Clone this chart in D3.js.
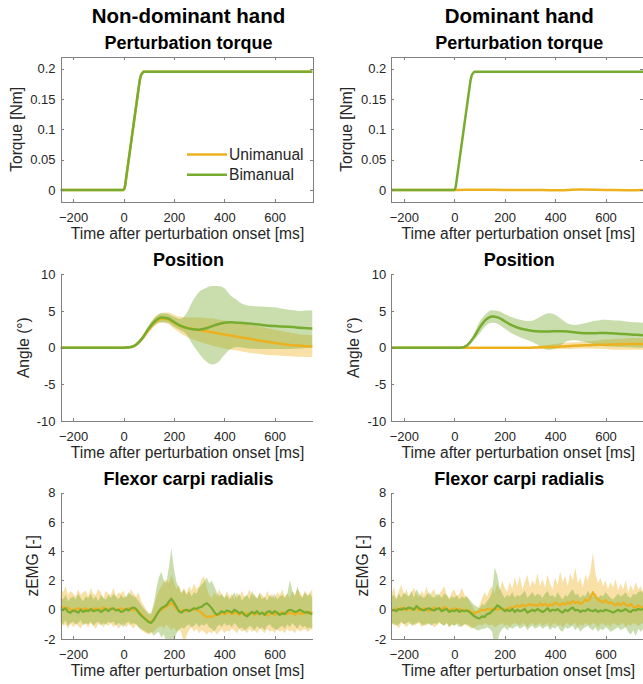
<!DOCTYPE html>
<html>
<head>
<meta charset="utf-8">
<script src="https://cdn.jsdelivr.net/npm/d3@7"></script>
<style>
  body { margin: 0; background: #fff; }
  svg { display: block; font-family: "Liberation Sans", Arial, sans-serif; }
  .axis path, .axis line { stroke: #808080; stroke-width: 1; shape-rendering: crispEdges; }
  .axis text { fill: #262626; font-size: 13px; }
  .lbl { fill: #262626; font-size: 15.6px; }
  .ttl { fill: #000; font-weight: bold; }
</style>
</head>
<body>
<svg width="643" height="684"></svg>
<script>
const colUni = "#EDB120", colBi = "#77AC30";

// time grids (ms)
const tTorque = [-250, -10, 0, 5, 10, 20, 30, 40, 50, 60, 65, 70, 75, 80, 90, 100, 750];
const tFlat = [-250, 0, 100, 200, 300, 400, 500, 600, 700, 750];
const tPos = d3.range(-250, 751, 25);
const tEmg = d3.range(-250, 751, 10);

const xTicks = [-200, 0, 200, 400, 600];
const torqueTicks = [0, 0.05, 0.1, 0.15, 0.2];
const posTicks = [-10, -5, 0, 5, 10];
const emgTicks = [-2, 0, 2, 4, 6, 8];

// torque [Nm]
const torqueBi = [0, 0, 0, 0.004, 0.018, 0.048, 0.078, 0.108, 0.138, 0.168, 0.182, 0.190, 0.193, 0.195, 0.195, 0.195, 0.195];
const torqueUniDom = [0, 0, 0.0004, 0, 0, -0.0006, 0.0005, 0, -0.0004, 0];

// position [deg], non-dominant
const posNdUni = [0,0,0,0,0,0,0,0,0,0,
  0, 0.05, 0.4, 1.3, 2.5, 3.5, 3.95, 3.9, 3.4, 2.95,
  2.7, 2.55, 2.4, 2.25, 2.1, 1.95, 1.8, 1.65, 1.5, 1.35,
  1.2, 1.05, 0.9, 0.78, 0.65, 0.52, 0.4, 0.32, 0.25, 0.2,
  0.15];
const posNdUniLo = [-0.05,-0.05,-0.05,-0.05,-0.05,-0.05,-0.05,-0.05,-0.05,-0.05,
  -0.05, -0.05, 0.2, 1.0, 2.0, 3.0, 3.4, 3.3, 2.6, 2.0,
  1.5, 1.1, 0.8, 0.55, 0.3, 0.1, -0.1, -0.25, -0.4, -0.55,
  -0.7, -0.8, -0.9, -1.0, -1.05, -1.1, -1.15, -1.2, -1.25, -1.28,
  -1.3];
const posNdUniHi = [0.05,0.05,0.05,0.05,0.05,0.05,0.05,0.05,0.05,0.05,
  0.05, 0.15, 0.6, 1.6, 3.0, 4.2, 4.7, 4.8, 4.5, 4.2,
  4.1, 4.1, 4.1, 4.05, 4.0, 3.85, 3.7, 3.55, 3.4, 3.25,
  3.1, 2.95, 2.8, 2.6, 2.45, 2.3, 2.1, 1.95, 1.8, 1.75,
  1.7];
const posNdBi = [0,0,0,0,0,0,0,0,0,0,
  0, 0.05, 0.4, 1.3, 2.6, 3.6, 4.1, 4.0, 3.5, 3.0,
  2.7, 2.5, 2.45, 2.6, 2.9, 3.2, 3.4, 3.45, 3.4, 3.35,
  3.3, 3.2, 3.1, 3.0, 2.95, 2.9, 2.85, 2.8, 2.7, 2.65,
  2.6];
const posNdBiLo = [-0.05,-0.05,-0.05,-0.05,-0.05,-0.05,-0.05,-0.05,-0.05,-0.05,
  -0.05, 0.0, 0.2, 1.0, 2.2, 3.1, 3.5, 3.4, 2.9, 2.4,
  1.8, 0.4, -0.8, -1.8, -2.3, -2.0, -1.0, -0.2, 0.1, 0.0,
  -0.1, -0.15, -0.2, -0.2, -0.2, -0.2, -0.2, -0.15, -0.1, -0.05,
  0.0];
const posNdBiHi = [0.05,0.05,0.05,0.05,0.05,0.05,0.05,0.05,0.05,0.05,
  0.05, 0.1, 0.6, 1.6, 3.0, 4.1, 4.7, 4.6, 4.2, 3.9,
  4.7, 6.4, 7.6, 8.1, 8.4, 8.4, 8.1, 7.1, 6.5, 5.9,
  5.7, 5.65, 5.6, 5.55, 5.5, 5.35, 5.2, 5.1, 5.0, 5.05,
  5.1];

// position [deg], dominant
const posDUni = [0,0,0,0,0,0,0,0,0,0,
  0,0,0,0,0,0,0,0,0,0,
  0, 0, 0, 0.02, 0.05, 0.08, 0.1, 0.15, 0.2, 0.25,
  0.3, 0.32, 0.35, 0.38, 0.4, 0.42, 0.45, 0.48, 0.5, 0.5,
  0.5];
const posDUniLo = [-0.05,-0.05,-0.05,-0.05,-0.05,-0.05,-0.05,-0.05,-0.05,-0.05,
  -0.05,-0.05,-0.05,-0.05,-0.05,-0.05,-0.05,-0.05,-0.05,-0.05,
  -0.05, -0.05, -0.1, -0.15, -0.2, -0.2, -0.2, -0.2, -0.2, -0.15,
  -0.1, -0.1, -0.1, -0.15, -0.2, -0.25, -0.3, -0.3, -0.3, -0.3,
  -0.3];
const posDUniHi = [0.05,0.05,0.05,0.05,0.05,0.05,0.05,0.05,0.05,0.05,
  0.05,0.05,0.05,0.05,0.05,0.05,0.05,0.05,0.05,0.05,
  0.05, 0.05, 0.1, 0.2, 0.3, 0.4, 0.5, 0.6, 0.7, 0.75,
  0.8, 0.85, 0.9, 1.0, 1.1, 1.15, 1.2, 1.25, 1.3, 1.3,
  1.3];
const posDBi = [0,0,0,0,0,0,0,0,0,0,
  0, 0, 0.3, 1.3, 2.7, 3.8, 4.25, 4.1, 3.6, 3.1,
  2.75, 2.5, 2.35, 2.25, 2.2, 2.2, 2.25, 2.25, 2.2, 2.1,
  2.0, 1.95, 1.95, 2.0, 2.0, 1.95, 1.9, 1.85, 1.8, 1.75,
  1.7];
const posDBiLo = [-0.05,-0.05,-0.05,-0.05,-0.05,-0.05,-0.05,-0.05,-0.05,-0.05,
  -0.05, -0.05, 0.1, 0.9, 1.9, 3.0, 3.4, 3.2, 2.6, 2.0,
  1.6, 1.2, 0.9, 0.5, 0.0, -0.3, -0.1, 0.4, 0.9, 1.0,
  0.9, 0.7, 0.5, 0.3, 0.2, 0.15, 0.1, 0.1, 0.05, 0.0,
  0.0];
const posDBiHi = [0.05,0.05,0.05,0.05,0.05,0.05,0.05,0.05,0.05,0.05,
  0.05, 0.05, 0.5, 1.7, 3.5, 4.6, 5.1, 5.0, 4.6, 4.2,
  3.9, 3.7, 3.6, 3.9, 4.4, 4.7, 4.5, 3.9, 3.3, 3.1,
  3.2, 3.4, 3.6, 3.75, 3.8, 3.75, 3.7, 3.6, 3.5, 3.45,
  3.4];

// flexor carpi radialis zEMG, non-dominant
const emgNdUni = [0.2, 0.15, 0.1, 0.15, 0.0, -0.05, 0.05, 0.1, 0.0, 0.05,
  0.1, 0.0, -0.05, 0.05, 0.1, 0.0, 0.05, 0.15, 0.05, 0.0,
  0.1, 0.05, -0.05, 0.05, 0.1, 0.0, 0.05, 0.1, 0.0, -0.05,
  0.05, -0.1, -0.3, -0.5, -0.65, -0.8, -0.85, -0.6, -0.35, -0.15,
  0.0, 0.1, 0.2, 0.35, 0.45, 0.3, 0.05, -0.1, -0.05, 0.0,
  -0.1, 0.0, -0.05, 0.05, 0.0, -0.1, -0.2, -0.4, -0.5, -0.45,
  -0.5, -0.4, -0.3, -0.35, -0.2, -0.3, -0.25, -0.15, -0.3, -0.2,
  -0.25, -0.35, -0.2, -0.3, -0.25, -0.3, -0.2, -0.35, -0.25, -0.3,
  -0.2, -0.25, -0.4, -0.3, -0.2, -0.35, -0.25, -0.3, -0.15, -0.25,
  -0.3, -0.2, -0.25, -0.35, -0.2, -0.25, -0.3, -0.2, -0.25, -0.15,
  -0.2];
const emgNdUniHi = [1.5, 1.2, 1.6, 1.0, 1.3, 1.1, 0.9, 1.4, 1.0, 1.2,
  1.3, 0.9, 1.5, 1.1, 1.0, 1.4, 1.2, 0.8, 1.3, 1.1,
  1.0, 1.5, 0.9, 1.2, 1.1, 1.3, 0.8, 1.0, 1.4, 1.1,
  0.9, 1.2, 0.6, 0.3, 0.0, -0.2, -0.3, 0.2, 0.8, 1.3,
  1.6, 1.9, 2.1, 1.8, 2.4, 1.9, 1.4, 1.7, 1.2, 1.5,
  1.1, 1.6, 1.3, 1.8, 1.4, 1.6, 2.1, 2.3, 1.5, 1.0,
  0.8, 1.2, 0.9, 1.4, 1.0, 0.8, 1.3, 0.9, 1.1, 0.7,
  1.2, 0.9, 1.3, 0.8, 1.0, 1.4, 0.9, 1.1, 0.7, 1.2,
  1.0, 0.8, 1.3, 0.9, 1.1, 0.7, 1.2, 1.0, 1.4, 0.9,
  1.1, 0.8, 1.3, 1.0, 1.4, 1.2, 0.9, 1.3, 1.0, 1.2,
  1.4];
const emgNdUniLo = [-0.9, -1.1, -1.0, -1.3, -0.9, -1.2, -1.0, -1.1, -1.3, -0.9,
  -1.0, -1.2, -0.9, -1.1, -1.3, -1.0, -0.9, -1.2, -1.0, -1.1,
  -0.9, -1.2, -1.0, -1.3, -1.1, -0.9, -1.2, -1.0, -1.1, -1.3,
  -1.0, -1.2, -1.4, -1.5, -1.6, -1.7, -1.6, -1.5, -1.3, -1.2,
  -1.1, -1.3, -1.0, -1.2, -1.4, -1.2, -1.5, -1.3, -1.6, -2.3,
  -1.8, -1.4, -1.2, -1.5, -1.3, -1.6, -1.4, -1.5, -1.7, -1.5,
  -1.6, -1.4, -1.7, -1.5, -1.3, -1.6, -1.4, -1.5, -1.3, -1.4,
  -1.6, -1.3, -1.5, -1.4, -1.6, -1.3, -1.5, -1.4, -1.6, -1.3,
  -1.4, -1.6, -1.3, -1.5, -1.4, -1.6, -1.3, -1.5, -1.4, -1.6,
  -1.3, -1.5, -1.4, -1.6, -1.3, -1.5, -1.4, -1.3, -1.5, -1.4,
  -1.3];
const emgNdBi = [0.05, 0.0, 0.1, -0.15, -0.2, -0.05, -0.1, -0.2, 0.0, -0.15,
  -0.05, -0.1, 0.05, -0.1, -0.05, 0.0, -0.15, -0.05, 0.05, -0.1,
  0.05, 0.1, -0.05, 0.0, -0.15, -0.1, 0.05, -0.05, 0.1, 0.15,
  0.05, -0.2, -0.4, -0.55, -0.7, -0.85, -0.9, -0.7, -0.4, -0.1,
  0.1, 0.2, 0.3, 0.55, 0.75, 0.5, 0.2, -0.1, -0.2, -0.05,
  0.0, -0.1, 0.0, 0.1, 0.05, 0.15, 0.2, 0.35, 0.45, 0.3,
  0.1, -0.15, -0.35, -0.25, -0.1, -0.2, -0.05, -0.1, -0.2, 0.0,
  -0.1, -0.25, -0.15, -0.35, -0.45, -0.3, -0.15, -0.25, -0.1, -0.3,
  -0.2, -0.35, -0.15, -0.1, -0.25, -0.1, -0.2, -0.35, -0.25, -0.3,
  -0.1, 0.0, -0.05, -0.15, -0.1, 0.0, -0.1, -0.2, -0.15, -0.25,
  -0.3];
const emgNdBiHi = [0.9, 0.7, 1.0, 0.6, 0.8, 0.9, 0.7, 1.1, 0.8, 0.6,
  0.9, 0.8, 1.1, 0.7, 0.9, 0.6, 1.0, 0.8, 0.7, 1.0,
  0.8, 1.1, 0.9, 0.7, 1.0, 0.8, 0.9, 1.2, 1.0, 0.9,
  0.8, 0.6, 0.3, 0.1, -0.1, -0.3, -0.2, 0.4, 1.4, 2.2,
  2.6, 2.0, 1.8, 2.9, 4.2, 2.8, 1.9, 1.5, 1.1, 1.4,
  1.0, 1.3, 0.9, 1.2, 1.1, 1.5, 1.7, 1.9, 2.2, 1.8,
  2.0, 1.6, 1.2, 0.9, 1.1, 0.8, 1.0, 0.7, 0.9, 1.2,
  0.8, 1.1, 0.6, 0.9, 1.0, 0.7, 1.3, 0.9, 0.8, 1.1,
  0.7, 0.9, 0.6, 1.0, 0.8, 1.1, 0.7, 0.9, 1.0, 0.8,
  1.1, 2.0, 1.3, 0.9, 1.6, 1.0, 0.8, 1.2, 0.9, 1.1,
  0.8];
const emgNdBiLo = [-0.8, -1.0, -0.7, -1.1, -0.9, -0.8, -1.0, -0.9, -0.7, -1.1,
  -0.9, -1.0, -0.8, -1.1, -0.9, -0.8, -1.1, -0.9, -1.0, -0.8,
  -0.9, -0.8, -1.1, -0.9, -1.0, -1.2, -0.9, -0.8, -1.0, -0.9,
  -1.0, -1.2, -1.3, -1.4, -1.5, -1.6, -1.5, -1.8, -1.6, -1.5,
  -1.9, -1.7, -2.2, -2.6, -3.0, -2.2, -1.6, -1.4, -1.2, -1.3,
  -1.1, -1.0, -1.2, -1.1, -0.9, -1.2, -1.0, -1.1, -0.9, -1.2,
  -1.3, -1.5, -1.2, -1.0, -1.2, -0.9, -1.1, -1.0, -1.2, -0.9,
  -1.1, -1.3, -1.2, -1.4, -1.3, -1.1, -1.2, -1.4, -1.1, -1.3,
  -1.2, -1.4, -1.1, -1.0, -1.2, -1.3, -1.4, -1.2, -1.1, -1.3,
  -1.0, -1.2, -0.9, -1.1, -1.3, -1.0, -1.2, -1.1, -1.3, -1.2,
  -1.3];

// flexor carpi radialis zEMG, dominant
const emgDUni = [0.05, -0.05, 0.1, 0.0, 0.15, 0.05, -0.05, 0.1, 0.0, 0.05,
  0.1, -0.05, 0.0, 0.1, 0.05, -0.1, 0.0, 0.15, 0.05, 0.1,
  0.0, 0.2, 0.1, -0.05, 0.05, 0.1, 0.0, 0.05, -0.05, 0.0,
  -0.1, -0.05, -0.2, -0.25, -0.15, -0.1, 0.0, -0.05, 0.05, 0.0,
  0.05, 0.1, 0.0, 0.05, 0.1, 0.0, 0.05, 0.15, 0.1, 0.2,
  0.3, 0.2, 0.35, 0.25, 0.3, 0.4, 0.3, 0.35, 0.25, 0.45,
  0.3, 0.4, 0.25, 0.35, 0.3, 0.5, 0.4, 0.3, 0.45, 0.35,
  0.5, 0.4, 0.6, 0.45, 0.55, 0.4, 0.5, 0.7, 0.6, 0.8,
  1.2, 0.9, 0.7, 0.6, 0.5, 0.65, 0.45, 0.5, 0.4, 0.3,
  0.45, 0.3, 0.5, 0.35, 0.25, 0.4, 0.2, 0.15, 0.3, 0.2,
  0.1];
const emgDUniHi = [1.0, 1.6, 0.8, 1.3, 1.7, 1.0, 1.4, 0.9, 1.2, 1.5,
  1.1, 0.8, 1.3, 1.0, 1.6, 0.9, 1.2, 1.4, 0.8, 1.1,
  1.3, 1.6, 1.0, 0.8, 1.2, 1.4, 0.9, 1.1, 1.5, 1.0,
  0.9, 0.6, 0.3, 0.0, -0.1, 0.3, 0.8, 1.2, 0.9, 1.4,
  1.6, 1.1, 1.8, 1.3, 2.0, 1.5, 1.2, 1.9, 1.4, 2.2,
  1.6, 2.3, 1.4, 1.9, 2.4, 1.5, 2.0, 1.7, 2.5, 1.6,
  2.1, 1.5, 2.4, 1.8, 1.4, 2.2, 1.7, 2.6, 1.9, 2.3,
  1.6, 2.5, 2.0, 2.9, 1.8, 2.2, 1.5, 2.4, 2.0, 2.6,
  3.9, 2.5, 1.8, 2.2, 1.6, 2.0, 1.4, 1.9, 1.5, 2.1,
  1.3, 1.8, 1.4, 2.0, 1.2, 1.7, 1.3, 1.9, 1.4, 1.6,
  1.2];
const emgDUniLo = [-0.9, -1.1, -1.0, -1.3, -0.9, -1.0, -1.2, -1.0, -0.9, -1.1,
  -1.0, -0.9, -1.2, -1.0, -1.1, -0.9, -1.0, -1.2, -1.1, -0.9,
  -1.0, -1.1, -0.9, -1.2, -1.0, -1.1, -0.9, -1.0, -1.2, -1.0,
  -1.1, -1.2, -1.3, -1.2, -1.1, -1.0, -1.1, -0.9, -1.0, -1.1,
  -1.0, -1.2, -1.1, -1.0, -0.9, -1.1, -1.0, -1.2, -1.0, -0.9,
  -1.0, -1.1, -0.9, -1.0, -1.2, -1.0, -0.9, -1.1, -1.0, -0.9,
  -1.1, -1.0, -0.9, -1.2, -1.0, -0.9, -1.1, -1.0, -1.2, -1.0,
  -0.9, -1.1, -1.0, -0.9, -1.2, -1.0, -1.1, -0.9, -1.0, -1.1,
  -0.9, -1.0, -1.2, -1.0, -0.9, -1.1, -1.0, -1.2, -0.9, -1.0,
  -1.1, -1.0, -0.9, -1.2, -1.0, -1.1, -0.9, -1.0, -1.1, -1.0,
  -0.9];
const emgDBi = [-0.05, 0.0, -0.1, 0.05, 0.0, 0.1, 0.05, 0.15, 0.1, 0.0,
  0.25, 0.1, 0.0, -0.05, 0.05, 0.1, 0.0, -0.05, 0.05, 0.1,
  -0.1, 0.0, 0.05, -0.15, -0.05, -0.1, 0.0, -0.15, -0.05, -0.1,
  -0.05, -0.15, -0.3, -0.45, -0.55, -0.6, -0.45, -0.5, -0.3, -0.25,
  -0.1, 0.05, 0.3, 0.2, 0.05, -0.1, 0.0, -0.1, 0.05, -0.15,
  0.0, -0.1, -0.05, 0.05, -0.2, -0.1, 0.0, -0.1, 0.05, -0.05,
  -0.15, -0.05, 0.1, -0.1, 0.0, -0.05, 0.05, -0.1, -0.2, 0.0,
  -0.1, 0.05, 0.15, -0.05, 0.0, -0.15, -0.05, -0.1, 0.05, -0.05,
  -0.1, 0.0, -0.15, -0.05, -0.1, 0.0, -0.05, -0.1, -0.2, -0.1,
  0.0, -0.1, -0.05, 0.05, -0.1, -0.15, 0.0, -0.05, 0.05, 0.0,
  0.05];
const emgDBiHi = [0.9, 1.0, 0.7, 1.1, 0.8, 1.2, 1.0, 0.9, 1.3, 0.8,
  1.4, 1.1, 0.9, 0.8, 1.0, 1.2, 0.9, 0.8, 1.1, 1.0,
  0.8, 1.1, 1.0, 0.7, 0.9, 0.8, 1.0, 0.7, 0.9, 0.8,
  0.9, 0.7, 0.5, 0.3, 0.2, 0.1, 0.4, 0.3, 0.6, 0.8,
  1.2, 2.9, 2.4, 1.5, 1.1, 0.8, 1.0, 0.9, 1.2, 0.8,
  1.0, 0.9, 1.1, 1.3, 0.8, 1.0, 1.2, 0.9, 1.1, 1.0,
  0.8, 1.1, 1.3, 0.9, 1.0, 0.8, 1.2, 0.9, 0.7, 1.0,
  0.9, 1.2, 1.4, 1.0, 1.1, 0.8, 1.0, 0.9, 1.3, 1.0,
  0.9, 1.1, 0.8, 1.0, 0.9, 1.2, 1.0, 0.8, 0.7, 0.9,
  1.1, 0.9, 1.0, 1.2, 0.9, 0.8, 1.1, 1.0, 1.2, 1.3,
  1.1];
const emgDBiLo = [-1.0, -0.9, -1.1, -1.0, -0.8, -1.0, -0.9, -0.8, -1.1, -1.0,
  -0.9, -0.8, -1.0, -1.1, -0.9, -1.0, -1.1, -0.9, -1.0, -0.8,
  -1.0, -1.1, -0.9, -1.2, -1.0, -1.1, -1.0, -1.2, -1.1, -1.0,
  -1.0, -1.1, -1.2, -1.3, -1.4, -1.4, -1.3, -1.3, -1.2, -1.3,
  -1.5, -2.6, -2.2, -1.6, -1.3, -1.2, -1.4, -1.2, -1.3, -1.2,
  -1.1, -1.3, -1.2, -1.1, -1.4, -1.2, -1.1, -1.3, -1.2, -1.1,
  -1.3, -1.2, -1.1, -1.4, -1.2, -1.3, -1.1, -1.4, -1.5, -1.2,
  -1.3, -1.2, -1.1, -1.4, -1.2, -1.5, -1.3, -1.2, -1.1, -1.3,
  -1.4, -1.2, -1.5, -1.3, -1.4, -1.2, -1.3, -1.5, -1.4, -1.3,
  -1.2, -1.4, -1.3, -1.2, -1.5, -1.7, -1.4, -1.8, -1.3, -1.5,
  -1.3];

const svg = d3.select("svg");
const W = 252;
const colX = [60.5, 391.3];
const rows = [
  {top: 56.7, bottom: 202, domain: [-0.02, 0.22], ticks: torqueTicks, fmt: d => d === 0 ? "0" : String(d), ylab: "Torque [Nm]", ylabOff: 39, title: "Perturbation torque", box: true},
  {top: 274.3, bottom: 421, domain: [-10, 10], ticks: posTicks, fmt: d => String(d), ylab: "Angle (\u00b0)", ylabOff: 32, title: "Position", box: false},
  {top: 492.7, bottom: 639, domain: [-2, 8], ticks: emgTicks, fmt: d => String(d), ylab: "zEMG [-]", ylabOff: 23, title: "Flexor carpi radialis", box: false}
];

let clipId = 0;
function panel(col, row, series, curve, lw) {
  const x0 = colX[col];
  const xScale = d3.scaleLinear().domain([-250, 750]).range([x0, x0 + W]);
  const yScale = d3.scaleLinear().domain(row.domain).range([row.bottom, row.top]);
  const g = svg.append("g");

  const id = "clip" + (clipId++);
  svg.append("clipPath").attr("id", id).append("rect")
      .attr("x", x0).attr("y", row.top).attr("width", W).attr("height", row.bottom - row.top);
  const plot = g.append("g").attr("clip-path", "url(#" + id + ")");

  const area = d3.area().curve(curve)
      .x(d => xScale(d.t)).y0(d => yScale(d.lo)).y1(d => yScale(d.hi));
  const line = d3.line().curve(curve)
      .x(d => xScale(d.t)).y(d => yScale(d.v));

  // bands first, then mean lines
  series.forEach(s => {
    if (!s.lo) return;
    plot.append("path")
        .datum(s.t.map((t, i) => ({t: t, lo: s.lo[i], hi: s.hi[i]})))
        .attr("d", area)
        .attr("fill", s.color).attr("fill-opacity", 0.4).attr("stroke", "none");
  });
  series.forEach(s => {
    plot.append("path")
        .datum(s.t.map((t, i) => ({t: t, v: s.v[i]})))
        .attr("d", line)
        .attr("fill", "none").attr("stroke", s.color).attr("stroke-width", lw)
        .attr("stroke-linejoin", "round");
  });

  // axes, ticks pointing inward
  const ax = g.append("g").attr("class", "axis")
      .attr("transform", "translate(0," + row.bottom + ")")
      .call(d3.axisBottom(xScale).tickValues(xTicks).tickSize(-3).tickSizeOuter(0));
  ax.selectAll("text").attr("y", 19.5).attr("dy", null);

  const ay = g.append("g").attr("class", "axis")
      .attr("transform", "translate(" + x0 + ",0)")
      .call(d3.axisLeft(yScale).tickValues(row.ticks).tickFormat(row.fmt).tickSize(-3).tickSizeOuter(0));
  ay.selectAll("text").attr("x", -5);

  if (row.box) {
    g.append("g").attr("class", "axis")
        .attr("transform", "translate(0," + row.top + ")")
        .call(d3.axisTop(xScale).tickValues(xTicks).tickSize(-3).tickSizeOuter(0).tickFormat(""));
    g.append("g").attr("class", "axis")
        .attr("transform", "translate(" + (x0 + W) + ",0)")
        .call(d3.axisRight(yScale).tickValues(row.ticks).tickSize(-3).tickSizeOuter(0).tickFormat(""));
  }

  g.append("text").attr("class", "lbl")
      .attr("x", x0 + W / 2 + 1).attr("y", row.bottom + 37)
      .attr("text-anchor", "middle")
      .text("Time after perturbation onset [ms]");

  g.append("text").attr("class", "lbl")
      .attr("transform", "translate(" + (x0 - row.ylabOff) + "," + ((row.top + row.bottom) / 2) + ") rotate(-90)")
      .attr("text-anchor", "middle")
      .text(row.ylab);

  g.append("text").attr("class", "ttl")
      .attr("x", x0 + W / 2 + 2).attr("y", row.top - 8)
      .attr("text-anchor", "middle").style("font-size", "18px")
      .text(row.title);

  return {g: g, x: xScale, y: yScale};
}

// column headers
["Non-dominant hand", "Dominant hand"].forEach((txt, i) => {
  svg.append("text").attr("class", "ttl")
      .attr("x", colX[i] + W / 2 + 2).attr("y", 22.5)
      .attr("text-anchor", "middle").style("font-size", "20.5px")
      .text(txt);
});

// torque
const p00 = panel(0, rows[0], [
  {t: tTorque, v: torqueBi, color: colUni},
  {t: tTorque, v: torqueBi, color: colBi}
], d3.curveMonotoneX, 2.5);
panel(1, rows[0], [
  {t: tFlat, v: torqueUniDom, color: colUni},
  {t: tTorque, v: torqueBi, color: colBi}
], d3.curveMonotoneX, 2.5);

// position
panel(0, rows[1], [
  {t: tPos, v: posNdUni, lo: posNdUniLo, hi: posNdUniHi, color: colUni},
  {t: tPos, v: posNdBi, lo: posNdBiLo, hi: posNdBiHi, color: colBi}
], d3.curveMonotoneX, 2.5);
panel(1, rows[1], [
  {t: tPos, v: posDUni, lo: posDUniLo, hi: posDUniHi, color: colUni},
  {t: tPos, v: posDBi, lo: posDBiLo, hi: posDBiHi, color: colBi}
], d3.curveMonotoneX, 2.5);

// EMG
panel(0, rows[2], [
  {t: tEmg, v: emgNdUni, lo: emgNdUniLo, hi: emgNdUniHi, color: colUni},
  {t: tEmg, v: emgNdBi, lo: emgNdBiLo, hi: emgNdBiHi, color: colBi}
], d3.curveLinear, 2.2);
panel(1, rows[2], [
  {t: tEmg, v: emgDUni, lo: emgDUniLo, hi: emgDUniHi, color: colUni},
  {t: tEmg, v: emgDBi, lo: emgDBiLo, hi: emgDBiHi, color: colBi}
], d3.curveLinear, 2.2);

// legend (top-left panel)
const legend = p00.g.append("g").attr("transform", "translate(187,154.5)");
[["Unimanual", colUni], ["Bimanual", colBi]].forEach((d, i) => {
  legend.append("line").attr("x1", 0).attr("x2", 40)
      .attr("y1", i * 20.3).attr("y2", i * 20.3)
      .attr("stroke", d[1]).attr("stroke-width", 2.5);
  legend.append("text").attr("class", "lbl")
      .attr("x", 42).attr("y", i * 20.3).attr("dy", "0.35em")
      .text(d[0]);
});
</script>
